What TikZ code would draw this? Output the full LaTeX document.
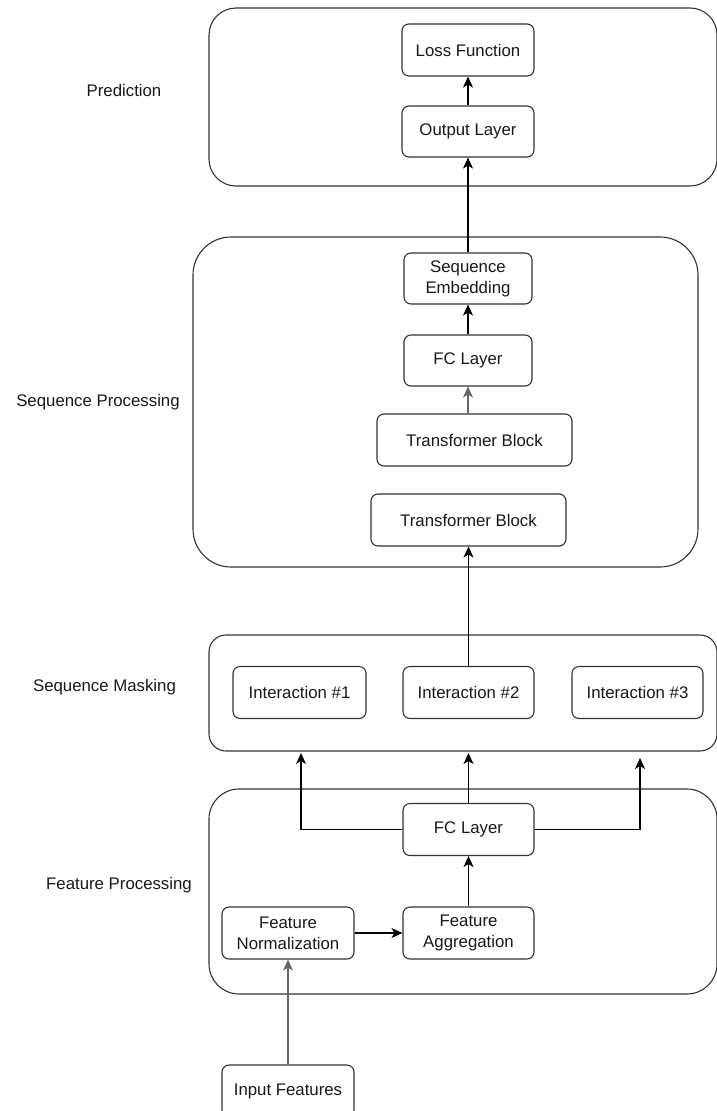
\documentclass[tikz,border=0pt]{standalone}
\usepackage{fontspec}
\setmainfont{Liberation Sans}
\usetikzlibrary{arrows.meta}
\begin{document}
\begin{tikzpicture}[x=1pt,y=-1pt,
  txt/.style={font=\fontsize{16.8pt}{21pt}\selectfont, text=black!90},
  box/.style={txt, draw=black!80, line width=1.1pt, rounded corners=7pt,
    minimum width=#1, minimum height=52pt, inner sep=0pt, align=center, fill=white},
  box/.default=132pt,
  cont/.style={draw=black!80, line width=1.1pt},
  lab/.style={txt, inner sep=0pt},
  arr/.style={-{Stealth[length=11pt,width=10pt,inset=3pt]}, line width=1.1pt, draw=black},
  garr/.style={arr, draw=black!60}
]
\useasboundingbox (0,0) rectangle (716,1111);

% containers
\draw[cont, rounded corners=27pt] (209,8) rectangle (717,186);
\draw[cont, rounded corners=38pt] (193,237) rectangle (698,567);
\draw[cont, rounded corners=17pt] (209,635) rectangle (717,751);
\draw[cont, rounded corners=30pt] (209,789) rectangle (717,994);

% section labels
\node[lab] (lpred) at (124,90) {Prediction};
\node[lab] (lseq) at (98,402) {Sequence Processing};
\node[lab] (lmask) at (104.5,687) {Sequence Masking};
\node[lab] (lfeat) at (119,885) {Feature Processing};

% prediction
\node[box] (loss) at (468,50) {Loss Function};
\node[box, minimum height=51pt] (out) at (468,131.5) {Output Layer};

% sequence processing
\node[box=128pt, minimum height=51pt] (emb) at (468,278.5) {Sequence\\Embedding};
\node[box=128pt, minimum height=51pt] (fc2) at (468,360.5) {FC Layer};
\node[box=195pt] (tbu) at (474.5,440) {Transformer Block};
\node[box=195pt] (tbl) at (468.5,520) {Transformer Block};

% sequence masking
\node[box=133pt] (i1) at (299.5,692.5) {Interaction \#1};
\node[box=131pt] (i2) at (468.5,692.5) {Interaction \#2};
\node[box=131pt] (i3) at (637.5,692.5) {Interaction \#3};

% feature processing
\node[box=131pt] (fc1) at (468.5,829.5) {FC Layer};
\node[box] (norm) at (288,933) {Feature\\Normalization};
\node[box=131pt] (agg) at (468.5,933) {Feature\\Aggregation};
\node[box] (inp) at (288,1091) {Input Features};

% free ends of the fan-out arrows
\coordinate (m1) at (301,753);
\coordinate (m2) at (468.5,753);
\coordinate (m3) at (640,758);

% connectors
\draw[arr] (out.north) -- (loss.south);
\draw[arr] (emb.north) -- (out.south);
\draw[arr] (fc2.north) -- (emb.south);
\draw[garr] (fc2.south |- tbu.north) -- (fc2.south);
\draw[arr] (i2.north) -- (tbl.south);
\draw[arr] (fc1.west) -| (m1);
\draw[arr] (fc1.north) -- (m2);
\draw[arr] (fc1.east) -| (m3);
\draw[arr] (agg.north) -- (fc1.south);
\draw[arr] (norm.east) -- (agg.west);
\draw[garr] (inp.north) -- (norm.south);
\end{tikzpicture}
\end{document}
